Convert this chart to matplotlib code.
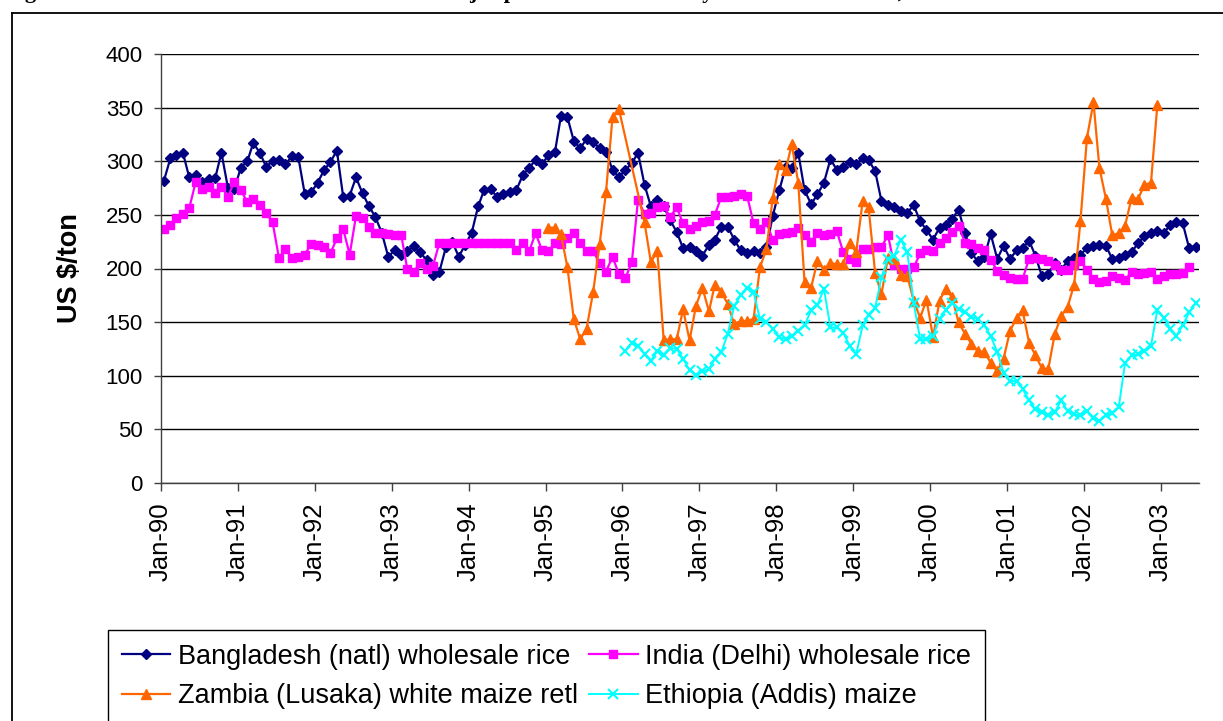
import numpy as np
import pandas as pd
import matplotlib
matplotlib.use('Agg')
import matplotlib.pyplot as plt
import matplotlib.dates as mdates
from matplotlib.lines import Line2D

plt.rcParams['font.family'] = ['Liberation Sans', 'DejaVu Sans']

# Monthly prices, US $/ton (Jan-90 .. Jun-03)
bangladesh = [282, 303, 306, 308, 285, 287, 281, 283, 284, 308,
              275, 274, 294, 300, 317, 308, 295, 300, 301, 297,
              305, 304, 269, 271, 280, 292, 299, 310, 267, 268,
              285, 270, 258, 248, 233, 211, 217, 213,
              216, 221, 215, 208, 194, 197, 220, 225, 211, 222,
              233, 258, 273, 274, 267, 269, 271, 273, 287, 294,
              301, 297, 306, 309, 342, 341, 319, 312, 321, 318,
              312, 309, 292, 285, 292, 298, 308, 278, 258, 264,
              258, 245, 234, 219, 220, 216, 212, 222, 227, 239,
              239, 227, 217, 214, 216, 214, 220, 249, 273, 295,
              294, 308, 273, 260, 269,
              280, 302, 292, 295, 299, 297, 303, 301, 291, 263,
              259, 257, 254, 252, 259, 244, 236, 227, 238, 241,
              246, 255, 233, 214, 207, 211, 232, 209, 221, 209, 217,
              219, 226, 212, 193, 195, 205, 199, 207, 210, 213,
              219, 221, 222, 221, 209, 210, 213, 215, 224, 230,
              233, 235, 233, 241, 243, 242, 219, 220]

india = [237, 241, 247, 251, 256, 281, 274, 276, 270, 276,
         267, 281, 273, 262, 265, 259, 252, 243, 210, 218,
         210, 211, 213, 223, 222, 220, 214, 228, 237, 213,
         249, 247, 239, 233, 233, 232, 231, 231, 200,
         197, 205, 200, 202,
         224, 224, 224, 224, 224, 224, 224, 224, 224, 224, 224, 224,
         217, 224, 216,
         233, 217, 216, 224, 223, 228, 233, 224, 216, 216, 205, 197, 211,
         195, 191, 206, 264,
         251, 252, 257, 258, 248, 257, 242, 237, 240, 243, 244, 250, 267,
         267, 268, 269, 268, 242, 237, 243, 227, 232, 233, 234, 238, 231,
         225, 233,
         231, 232, 235, 215, 209, 206, 218, 218, 220, 220, 231, 203, 200,
         200, 201, 214, 217, 216, 224, 228, 234, 240,
         224, 223, 219, 217, 208, 198, 194, 191, 190, 190,
         209, 210, 209, 207, 203, 199, 199, 203, 207, 199,
         190, 187, 188, 193, 191, 189, 197, 195, 196, 197,
         190, 193, 195, 195, 196, 201]

# Zambia: Jan-95 .. Dec-95, then Apr-96 .. Dec-02
zambia_idx = list(range(60, 72)) + list(range(75, 156))
zambia = [238, 238, 232, 201, 153, 134, 144, 178, 223, 271, 341, 349,
          243, 206, 216, 133, 134, 134, 162, 133, 165, 182, 160, 185, 178,
          167, 148, 151, 151, 153, 201, 218, 266, 297, 292, 316, 280, 187,
          182, 207,
          199, 205, 204, 204, 224, 215, 263, 257, 196, 176, 210, 209, 194,
          193, 170, 154, 171, 136, 170, 181, 173, 150, 139, 130, 123, 122,
          112, 104, 116, 142, 154, 161, 131, 119, 107, 106, 139, 156, 164,
          185, 244, 322, 355, 294, 265, 231, 233, 240, 266, 265, 278, 280,
          352]

# Ethiopia: Jan-96 .. Jun-03
ethiopia = [123, 131, 128, 120, 114, 123, 119, 126, 125, 116,
            105, 101, 104, 106, 116, 122, 139, 165, 175, 182,
            178, 153, 150, 144, 136, 134, 137, 142, 147, 161,
            166, 181, 145, 145, 140, 128, 120, 147, 157, 163,
            192, 209, 212, 227, 215, 168, 134, 134, 137, 153,
            161, 168, 162, 159, 155, 153, 147, 137, 122, 103,
            95, 95, 88, 77, 69, 66, 63, 66, 77, 67,
            64, 63, 67, 61, 58, 63, 65, 71, 112, 119,
            120, 123, 128, 161, 154, 144, 137, 147, 159, 168]

labels = ['Bangladesh (natl) wholesale rice', 'India (Delhi) wholesale rice',
          'Zambia (Lusaka) white maize retl', 'Ethiopia (Addis) maize']

months = pd.date_range('1990-01-01', periods=162, freq='MS') + pd.Timedelta(days=14)

W, H = 1223, 721
fig = plt.figure(figsize=(W / 100, H / 100), dpi=100)
ax = fig.add_axes([161 / W, 1 - 483 / H, (1199 - 161) / W, (483 - 54) / H])

l1, = ax.plot(months[:len(bangladesh)], bangladesh, color='#000080', lw=1.6,
              marker='D', ms=5.6, label=labels[0])
l2, = ax.plot(months[:len(india)], india, color='#FF00FF', lw=1.6,
              marker='s', ms=6.3, label=labels[1])
l3, = ax.plot(months[zambia_idx], zambia, color='#FF6600', lw=1.6,
              marker='^', ms=7.5, label=labels[2])
l4, = ax.plot(months[72:72 + len(ethiopia)], ethiopia, color='#00FFFF', lw=1.4,
              marker='x', ms=7.5, mew=1.5, label=labels[3])

ax.set_ylim(0, 400)
ax.set_yticks(range(0, 401, 50))
ax.set_xlim(pd.Timestamp('1990-01-01'), pd.Timestamp('2003-07-01'))
ax.xaxis.set_major_locator(mdates.YearLocator())
ax.xaxis.set_major_formatter(mdates.DateFormatter('%b-%y'))
ax.yaxis.grid(True, color='black', lw=1)
ax.set_axisbelow(True)

for s in ['top', 'right']:
    ax.spines[s].set_visible(False)
for s in ['left', 'bottom']:
    ax.spines[s].set_color('#404040')
    ax.spines[s].set_linewidth(1)

ax.tick_params(axis='y', direction='out', length=5, width=1, colors='#404040',
               labelcolor='black', labelsize=16, pad=8)
ax.tick_params(axis='x', direction='out', length=6, width=1, colors='#404040',
               labelcolor='black', labelsize=18.5, pad=8, labelrotation=90)

fig.text(70 / W, 1 - 268 / H, 'US $/ton', rotation=90, ha='center', va='center',
         fontsize=19.5, fontweight='bold')

# outer chart frame
fig.add_artist(Line2D([12 / W, 1], [1 - 13 / H, 1 - 13 / H], color='black', lw=1.3,
                      transform=fig.transFigure))
fig.add_artist(Line2D([12 / W, 12 / W], [0, 1 - 13 / H], color='black', lw=1.3,
                      transform=fig.transFigure))

# title, cut by the top edge of the picture as in the source
fig.text(5 / W, 1 + 2 / H, 'Figure 3: Nominal rice and maize costs in the major producer '
         'countries by market and month, 1990-2003', ha='left', va='baseline',
         fontsize=16, fontweight='bold', family=['Liberation Serif', 'DejaVu Serif'])

leg = fig.legend([l1, l3, l2, l4], [labels[0], labels[2], labels[1], labels[3]],
                 loc='upper left', bbox_to_anchor=(108 / W, 1 - 630 / H), ncol=2,
                 fontsize=19.5, frameon=True, fancybox=False, edgecolor='black',
                 framealpha=1, borderaxespad=0, borderpad=0.5, labelspacing=0.5,
                 handlelength=1.8, handletextpad=0.28, columnspacing=0.4)
leg.get_frame().set_linewidth(1)

fig.savefig('out.png', dpi=100)
